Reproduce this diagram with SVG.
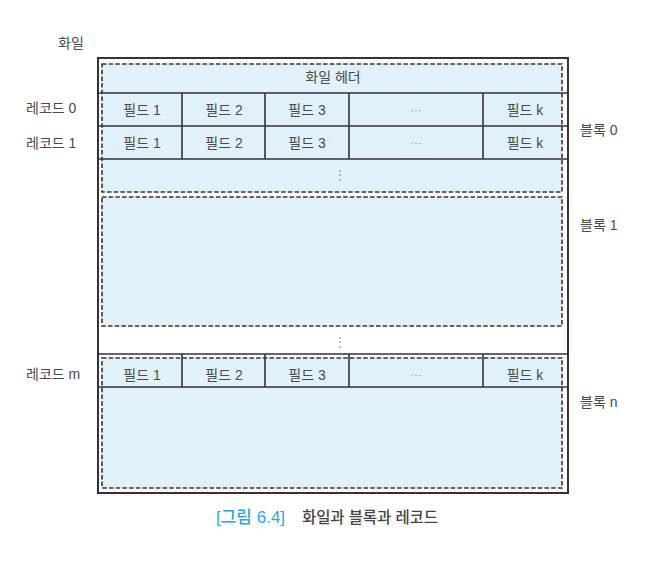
<svg xmlns="http://www.w3.org/2000/svg" width="661" height="564" viewBox="0 0 661 564">
<style>
.t{font-family:"Liberation Sans","Noto Sans CJK KR",sans-serif;font-size:14px;fill:#4a4a4a}
.c{text-anchor:middle}
.blk{fill:#e0f1fb;stroke:none}
.dash{fill:none;stroke:#333;stroke-width:1.6;stroke-dasharray:4.5 2.2}
.ln{stroke:#333;stroke-width:1.6;fill:none}
.dots{font-family:"Liberation Sans","Noto Sans",sans-serif;font-size:12px;fill:#999}
.cap{font-family:"Liberation Sans","Noto Sans CJK KR",sans-serif;font-size:15.5px;font-weight:500}
</style>
<rect width="661" height="564" fill="#fff"/>
<g id="file">
<rect x="98" y="58" width="470" height="435" fill="#fff" stroke="#333" stroke-width="2"/>
<text class="t" x="58" y="48">화일</text>
</g>
<g id="block0">
<rect class="blk" x="102" y="64" width="460" height="128"/>
<text class="t c" x="333" y="82">화일 헤더</text>
<text class="dots c" x="340" y="179">⋮</text>
<text class="t" x="580" y="135">블록 0</text>
</g>
<g id="block1">
<rect class="blk" x="102" y="197" width="460" height="129"/>
<text class="t" x="580" y="230">블록 1</text>
</g>
<text class="dots c" x="340" y="346">⋮</text>
<g id="blockn">
<rect class="blk" x="102" y="358" width="460" height="130"/>
<text class="t" x="580" y="407">블록 n</text>
</g>
<g id="record0">
<text class="t" x="26" y="113">레코드 0</text>
<text class="t c" x="142" y="115">필드 1</text>
<text class="t c" x="224" y="115">필드 2</text>
<text class="t c" x="307" y="115">필드 3</text>
<text class="dots c" x="416" y="114">···</text>
<text class="t c" x="525" y="115">필드 k</text>
</g>
<g id="record1">
<text class="t" x="26" y="148">레코드 1</text>
<text class="t c" x="142" y="148">필드 1</text>
<text class="t c" x="224" y="148">필드 2</text>
<text class="t c" x="307" y="148">필드 3</text>
<text class="dots c" x="416" y="147">···</text>
<text class="t c" x="525" y="148">필드 k</text>
</g>
<g id="recordm">
<text class="t" x="26" y="379">레코드 m</text>
<text class="t c" x="142" y="380">필드 1</text>
<text class="t c" x="224" y="380">필드 2</text>
<text class="t c" x="307" y="380">필드 3</text>
<text class="dots c" x="416" y="379">···</text>
<text class="t c" x="525" y="380">필드 k</text>
</g>
<g id="connectors">
<path class="ln" d="M98 93H568M98 126H568M98 159H568M182 93V159M265 93V159M349 93V159M483 93V159"/>
<path class="ln" d="M98 354H568M98 387H568M182 354V387M265 354V387M349 354V387M483 354V387"/>
<rect class="dash" x="102" y="64" width="460" height="128"/>
<rect class="dash" x="102" y="197" width="460" height="129"/>
<rect class="dash" x="102" y="358" width="460" height="130"/>
</g>
<g id="caption">
<text class="cap" x="216" y="523" fill="#2ca6df" style="font-size:17px">[그림 6.4]</text>
<text class="cap" x="302" y="523" fill="#444" textLength="136" lengthAdjust="spacing">화일과 블록과 레코드</text>
</g>
</svg>
